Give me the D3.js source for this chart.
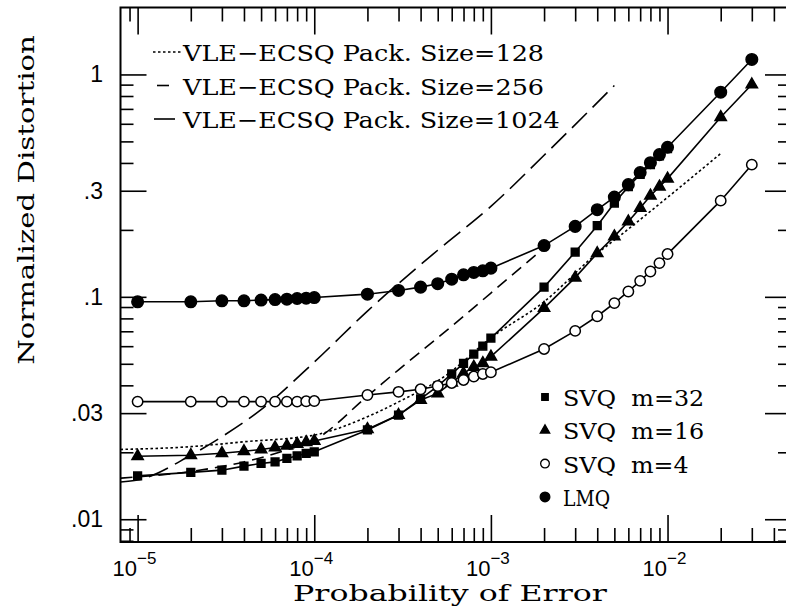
<!DOCTYPE html>
<html lang="en">
<head>
<meta charset="UTF-8">
<title>Normalized Distortion vs Probability of Error</title>
<script src="https://d3js.org/d3.v7.min.js"></script>
<style>
  body { margin: 0; background: #fff; }
  svg { display: block; }
  .tick-label { font-family: "Liberation Sans", Arial, sans-serif; fill: #000; }
  .mono { font-family: "DejaVu Serif", "Liberation Serif", serif; font-size: 23px; fill: #000;
          white-space: pre; }
</style>
</head>
<body>
<div id="chart"></div>
<script>
// probability of error grid used by the SVQ / LMQ curves
const probGrid = [1e-5, 2e-5, 3e-5, 4e-5, 5e-5, 6e-5, 7e-5, 8e-5, 9e-5,
                  1e-4, 2e-4, 3e-4, 4e-4, 5e-4, 6e-4, 7e-4, 8e-4, 9e-4,
                  1e-3, 2e-3, 3e-3, 4e-3, 5e-3, 6e-3, 7e-3, 8e-3, 9e-3,
                  1e-2, 2e-2, 3e-2];

const lmq = [0.095, 0.095, 0.096, 0.096, 0.0967, 0.0972, 0.0976, 0.0983, 0.0986,
             0.0993, 0.1028, 0.1068, 0.1106, 0.1146, 0.120, 0.1256, 0.1287, 0.131,
             0.1346, 0.170, 0.2074, 0.2466, 0.2808, 0.3195, 0.362, 0.401, 0.436,
             0.4706, 0.832, 1.168];

const svq4 = [0.0338, 0.0338, 0.0338, 0.0338, 0.0338, 0.0338, 0.0338, 0.0338, 0.0339,
              0.034, 0.0362, 0.0374, 0.0384, 0.0397, 0.041, 0.0423, 0.0438, 0.045,
              0.0458, 0.0583, 0.0703, 0.0818, 0.0937, 0.1057, 0.118, 0.130, 0.1418,
              0.1557, 0.2707, 0.393];

const svq16 = [0.0192, 0.0194, 0.0198, 0.0202, 0.0206, 0.021, 0.0214, 0.0218, 0.0222,
               0.0225, 0.0254, 0.0294, 0.0344, 0.0368, 0.0411, 0.0453, 0.0484, 0.0503,
               0.0538, 0.089, 0.122, 0.157, 0.187, 0.218, 0.251, 0.285, 0.313,
               0.34, 0.642, 0.901];

// m=32 stops at 1e-2
const svq32 = [0.01567, 0.01624, 0.01662, 0.01733, 0.01782, 0.01811, 0.01876, 0.01928, 0.01977,
               0.0201, 0.0252, 0.0294, 0.0348, 0.0397, 0.045, 0.0502, 0.0553, 0.0601,
               0.0652, 0.1106, 0.159, 0.209, 0.264, 0.313, 0.355, 0.393, 0.43,
               0.464];

// VLE-ECSQ curves (no markers)
const vle128P = [8e-6, 2e-5, 4e-5, 1e-4, 2e-4, 3e-4, 5.6e-4, 1e-3, 2e-3, 4e-3, 5e-3, 1e-2, 2e-2];
const vle128D = [0.0206, 0.0212, 0.0223, 0.0239, 0.0289, 0.0337, 0.0445, 0.0654, 0.095, 0.157, 0.18, 0.28, 0.441];

const vle256P = [8e-6, 2e-5, 4e-5, 7e-5, 1e-4, 2e-4, 3e-4, 5.6e-4, 1e-3, 2e-3];
const vle256D = [0.0153, 0.0164, 0.0181, 0.0205, 0.0227, 0.0358, 0.047, 0.0705, 0.104, 0.166];

const vle1024P = [8e-6, 1e-5, 2e-5, 3e-5, 5e-5, 1e-4, 2e-4, 5e-4, 1e-3, 2e-3, 5e-3];
const vle1024D = [0.0147, 0.0150, 0.0194, 0.0235, 0.0311, 0.0509, 0.0863, 0.162, 0.255, 0.433, 0.892];

// axis ticks
const xMajor = [1e-5, 1e-4, 1e-3, 1e-2];
const xMajorExp = ["5", "4", "3", "2"];
const yMajor = [0.01, 0.03, 0.1, 0.3, 1];
const yMajorLabels = [".01", ".03", ".1", ".3", "1"];

const lineLegend = ["VLE\u2212ECSQ Pack. Size=128", "VLE\u2212ECSQ Pack. Size=256", "VLE\u2212ECSQ Pack. Size=1024"];
const markerLegend = ["SVQ  m=32", "SVQ  m=16", "SVQ  m=4", "LMQ"];

const W = 786, H = 612;
const plotL = 120.5, plotR = 791, plotT = 7.5, plotB = 542;

const svg = d3.select("#chart").append("svg")
    .attr("width", W)
    .attr("height", H);

const x = d3.scaleLog().domain([8e-6, 0.05]).range([plotL, plotR]);
const y = d3.scaleLog().domain([0.0079, 2]).range([plotB, plotT]);

// minor ticks: every k*10^n inside the domain that is not a major
function minors(scale, majors) {
    const [a, b] = scale.domain();
    const out = [];
    for (let e = Math.floor(Math.log10(a)); e <= Math.ceil(Math.log10(b)); e++) {
        for (let k = 1; k <= 9; k++) {
            const v = k * Math.pow(10, e);
            if (v > a * 1.001 && v < b * 0.999 && !majors.some(m => Math.abs(m - v) / v < 1e-6)) out.push(v);
        }
    }
    return out;
}
const xMinor = minors(x, xMajor);
const yMinor = minors(y, yMajor);

function tickAxis(axisFn, scale, values, size, tx, ty) {
    const g = svg.append("g")
        .attr("transform", `translate(${tx},${ty})`)
        .call(axisFn(scale).tickValues(values).tickSizeInner(-size).tickSizeOuter(0).tickFormat(""));
    g.select(".domain").remove();
    g.selectAll(".tick line").attr("stroke", "#000").attr("stroke-width", 1.6);
}

tickAxis(d3.axisBottom, x, xMajor, 27, 0, plotB);
tickAxis(d3.axisBottom, x, xMinor, 14, 0, plotB);
tickAxis(d3.axisTop, x, xMajor, 27, 0, plotT);
tickAxis(d3.axisTop, x, xMinor, 14, 0, plotT);
tickAxis(d3.axisLeft, y, yMajor, 26, plotL, 0);
tickAxis(d3.axisLeft, y, yMinor, 13, plotL, 0);
tickAxis(d3.axisRight, y, yMajor, 26, plotR, 0);
tickAxis(d3.axisRight, y, yMinor, 13, plotR, 0);

// frame
svg.append("rect")
    .attr("x", plotL).attr("y", plotT)
    .attr("width", plotR - plotL).attr("height", plotB - plotT)
    .attr("fill", "none").attr("stroke", "#000").attr("stroke-width", 2);

// x tick labels 10^n
xMajor.forEach((v, i) => {
    const t = svg.append("text")
        .attr("class", "tick-label")
        .attr("x", x(v) - 25)
        .attr("y", 576)
        .attr("font-size", 22);
    t.append("tspan").text("10");
    t.append("tspan").attr("dy", -12).attr("font-size", 17).text("\u2212" + xMajorExp[i]);
});

// y tick labels
svg.selectAll(".ylab")
    .data(yMajor)
    .enter().append("text")
    .attr("class", "tick-label")
    .attr("x", 103)
    .attr("y", d => y(d) + 8)
    .attr("font-size", 23)
    .attr("text-anchor", "end")
    .text((d, i) => yMajorLabels[i]);

// axis titles
const charW = 15.7;
svg.append("text")
    .attr("class", "mono")
    .attr("x", 450).attr("y", 601)
    .attr("text-anchor", "middle")
    .attr("textLength", 20 * charW).attr("lengthAdjust", "spacingAndGlyphs")
    .text("Probability of Error");

svg.append("text")
    .attr("class", "mono")
    .attr("transform", "translate(34,200) rotate(-90)")
    .attr("text-anchor", "middle")
    .attr("textLength", 21 * charW).attr("lengthAdjust", "spacingAndGlyphs")
    .text("Normalized Distortion");

// curves
const line = d3.line()
    .x(d => x(d[0]))
    .y(d => y(d[1]))
    .curve(d3.curveMonotoneX);

const vleSeries = [
    { p: vle128P, d: vle128D, dash: "2.5,2.5" },
    { p: vle256P, d: vle256D, dash: "12,7" },
    { p: vle1024P, d: vle1024D, dash: "21,8" }
];

vleSeries.forEach(s => {
    svg.append("path")
        .attr("d", line(s.p.map((p, i) => [p, s.d[i]])))
        .attr("fill", "none")
        .attr("stroke", "#000")
        .attr("stroke-width", 1.6)
        .attr("stroke-dasharray", s.dash);
});

const straight = d3.line().x(d => x(d[0])).y(d => y(d[1]));

const markerSeries = [
    { d: svq32, sym: d3.symbolSquare, size: 60, fill: "#000" },
    { d: svq16, sym: d3.symbolTriangle, size: 55, fill: "#000" },
    { d: svq4, sym: d3.symbolCircle, size: 85, fill: "#fff" },
    { d: lmq, sym: d3.symbolCircle, size: 105, fill: "#000" }
];

markerSeries.forEach(s => {
    const pts = s.d.map((v, i) => [probGrid[i], v]);
    svg.append("path")
        .attr("d", straight(pts))
        .attr("fill", "none")
        .attr("stroke", "#000")
        .attr("stroke-width", 1.6);
    svg.append("g").selectAll("path")
        .data(pts)
        .enter().append("path")
        .attr("transform", d => `translate(${x(d[0])},${y(d[1])})`)
        .attr("d", d3.symbol(s.sym, s.size))
        .attr("fill", s.fill)
        .attr("stroke", "#000")
        .attr("stroke-width", 1.5);
});

// legend: line styles (sample extents differ per row, as in the original)
const legX1 = [153, 157, 154], legX2 = [181, 170, 177];
lineLegend.forEach((label, i) => {
    const cy = 52 + i * 33.5;
    svg.append("line")
        .attr("x1", legX1[i]).attr("x2", legX2[i])
        .attr("y1", cy).attr("y2", cy)
        .attr("stroke", "#000").attr("stroke-width", 1.6)
        .attr("stroke-dasharray", vleSeries[i].dash);
    svg.append("text")
        .attr("class", "mono")
        .attr("x", 183).attr("y", cy + 9)
        .attr("textLength", label.length * charW).attr("lengthAdjust", "spacingAndGlyphs")
        .text(label);
});

// legend: markers
markerLegend.forEach((label, i) => {
    const cy = 397 + i * 33.3;
    const s = markerSeries[i];
    svg.append("path")
        .attr("transform", `translate(545,${cy})`)
        .attr("d", d3.symbol(s.sym, s.size * 0.7))
        .attr("fill", s.fill)
        .attr("stroke", "#000")
        .attr("stroke-width", 1.3);
    svg.append("text")
        .attr("class", "mono")
        .attr("x", 563).attr("y", cy + 9)
        .attr("textLength", label.length * charW).attr("lengthAdjust", "spacingAndGlyphs")
        .text(label);
});
</script>
</body>
</html>
